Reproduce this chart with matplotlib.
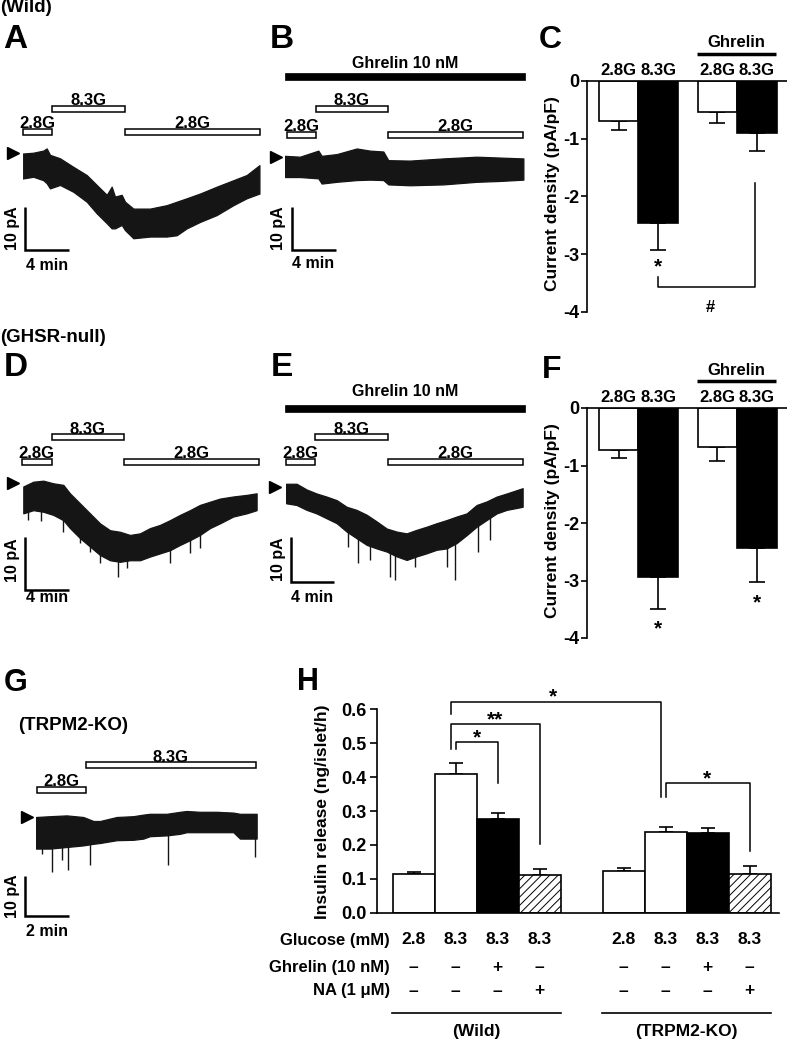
import numpy as np
import matplotlib
matplotlib.use("Agg")
import matplotlib.pyplot as plt
from matplotlib.patches import Rectangle
from matplotlib.transforms import blended_transform_factory

plt.rcParams['font.family'] = ['Liberation Sans', 'DejaVu Sans']
plt.rcParams['font.weight'] = 'bold'
plt.rcParams['axes.linewidth'] = 1.2
plt.rcParams['hatch.linewidth'] = 0.7

W, H = 787, 1041
TRACE = '#151515'
FS = 11.5

# ---------------- current traces: envelope, time (min) / current (pA) ----------------
a_t = [0, 0.97, 1.88, 2.18, 2.48, 3.39, 4.61, 5.82, 6.73, 7.64, 8.09, 8.39, 9.0, 9.3,
       10.06, 11.58, 13.09, 14.0, 14.91, 16.12, 17.64, 19.15, 20.36, 21.52]
a_top = [-0.2, 0.0, 0.5, 1.0, -0.5, -1.3, -3.3, -5.2, -7.5, -9.8, -7.9, -10.2, -9.8, -11.4,
         -13.0, -13.0, -12.2, -11.4, -10.6, -9.5, -7.9, -6.4, -5.2, -2.9]
a_bot = [-6.0, -5.6, -6.4, -7.1, -8.3, -7.5, -9.1, -11.4, -14.1, -16.4, -17.6, -17.6, -16.8, -18.0,
         -19.9, -19.5, -19.5, -19.2, -17.6, -16.1, -14.5, -12.2, -10.6, -9.5]

b_t = [0, 1.36, 3.03, 3.33, 4.7, 6.52, 7.73, 8.94, 9.39, 11.36, 14.39, 17.42, 19.55, 21.67]
b_top = [0.2, 0.0, 1.4, 0.2, 0.6, 1.9, 1.4, 1.2, -0.8, -0.9, -0.4, 0.0, -0.2, -0.4]
b_bot = [-4.7, -4.7, -5.0, -6.2, -5.8, -5.4, -5.3, -5.4, -6.4, -6.6, -6.4, -5.8, -5.6, -5.3]

d_t = [0, 0.91, 1.82, 2.73, 3.64, 4.24, 5.15, 6.06, 6.97, 7.88, 8.79, 9.7, 10.61, 11.52,
       12.42, 13.33, 14.24, 15.15, 16.06, 16.97, 17.88, 19.09, 20.3, 21.21]
d_top = [-0.6, 0.3, 0.5, 0.0, -0.3, -1.9, -3.8, -5.7, -7.6, -8.9, -9.2, -9.8, -9.5, -8.5,
         -7.9, -7.0, -6.0, -5.1, -4.1, -3.5, -2.9, -2.5, -2.2, -1.9]
d_bot = [-5.7, -5.1, -5.4, -6.0, -7.0, -8.5, -10.4, -12.0, -13.6, -14.6, -14.9, -14.6, -14.6, -13.9,
         -13.3, -12.7, -11.7, -10.8, -9.8, -8.5, -7.6, -6.3, -5.7, -5.1]
d_spk_t = [0.45, 1.6, 3.64, 5.15, 6.06, 6.97, 8.64, 9.39, 13.33, 15.15, 16.06]
d_spk_v = [-7.0, -7.1, -9.2, -11.4, -13.0, -15.2, -17.7, -16.1, -15.2, -13.3, -12.3]

e_t = [0, 0.98, 1.91, 2.83, 3.75, 4.68, 5.6, 6.52, 7.45, 8.37, 9.29, 10.22, 11.14, 12.06,
       12.98, 13.91, 14.83, 15.75, 16.68, 17.6, 18.52, 19.45, 20.37, 21.85]
e_top = [0.8, 0.8, -0.5, -1.4, -2.1, -2.9, -4.4, -5.1, -6.2, -7.7, -9.3, -10.0, -10.4, -9.6,
         -8.9, -8.1, -7.4, -6.6, -5.9, -4.0, -3.2, -2.1, -1.4, -0.2]
e_bot = [-3.6, -4.0, -5.1, -5.9, -7.0, -8.1, -10.0, -11.5, -13.0, -13.8, -14.5, -15.6, -16.4, -15.6,
         -14.9, -14.1, -13.8, -12.6, -10.8, -8.9, -7.4, -5.9, -5.1, -4.4]
e_spk_t = [5.75, 6.68, 7.75, 9.6, 10.06, 11.91, 14.83, 15.6, 17.75, 18.83]
e_spk_v = [-13.4, -17.1, -16.4, -20.2, -20.9, -17.9, -17.9, -20.9, -14.5, -11.9]

g_t = [0, 0.64, 1.39, 2.15, 2.61, 2.91, 3.67, 4.42, 4.88, 5.18, 5.94, 6.55, 6.85, 7.45,
       8.21, 8.97, 9.27, 10.03]
g_top = [0.0, 0.2, 0.4, 0.0, -1.0, -1.0, 0.0, 0.2, 0.6, 0.8, 0.8, 1.3, 1.5, 1.3,
         1.3, 1.1, 0.8, 0.8]
g_bot = [-7.9, -7.9, -7.5, -7.1, -6.7, -6.5, -5.8, -5.7, -5.4, -4.8, -4.6, -4.2, -3.8, -3.8,
         -3.8, -3.8, -5.4, -5.4]
g_spk_t = [0.26, 0.71, 1.17, 1.47, 2.45, 6.02, 9.96]
g_spk_v = [-9.2, -13.8, -10.8, -13.3, -12.1, -12.1, -10.0]

# glucose application periods (min)
stim_lbl = ["2.8G", "8.3G", "2.8G"]
a_on, a_off = [0, 2.69, 9.27], [2.69, 9.27, 21.57]
b_on, b_off = [0.15, 2.79, 9.39], [2.79, 9.39, 21.67]
d_on, d_off = [-0.15, 2.57, 9.15], [2.57, 9.15, 21.4]
e_on, e_off = [0, 2.7, 9.38], [2.7, 9.38, 21.86]
g_lbl = ["2.8G", "8.3G"]
g_on, g_off = [0.06, 2.26], [2.26, 9.99]
b_ghr = [0, 21.8]
e_ghr = [-0.1, 22.1]

# ---------------- current density (pA/pF) ----------------
cd_labels = ["2.8G", "8.3G", "2.8G", "8.3G"]
c_mean = [-0.70, -2.46, -0.53, -0.90]
c_sem = [0.15, 0.46, 0.19, 0.32]
f_mean = [-0.73, -2.94, -0.68, -2.44]
f_sem = [0.14, 0.55, 0.24, 0.58]

# ---------------- insulin release (ng/islet/h) ----------------
h_wild = [0.113, 0.409, 0.277, 0.110]
h_wild_sem = [0.008, 0.032, 0.018, 0.020]
h_ko = [0.123, 0.237, 0.236, 0.113]
h_ko_sem = [0.008, 0.017, 0.013, 0.025]
glucose = ["2.8", "8.3", "8.3", "8.3"]
ghrelin = ["–", "–", "+", "–"]
na = ["–", "–", "–", "+"]


fig = plt.figure(figsize=(W / 100, H / 100), dpi=100)
ov = fig.add_axes([0, 0, 1, 1], zorder=10)
ov.set_xlim(0, W)
ov.set_ylim(H, 0)
ov.axis('off')


def box(x0, y0, x1, y1):
    return [x0 / W, 1 - y1 / H, (x1 - x0) / W, (y1 - y0) / H]


def trace_panel(t0, base, ppm, ppa, t, top, bot, spk_t=None, spk_v=None, arrow_off=10):
    ax = fig.add_axes([t0 / W, 1 - (base + 120) / H, 245 / W, 150 / H])
    ax.set_xlim(0, 245 / ppm)
    ax.set_ylim(-120 / ppa, 30 / ppa)
    ax.axis('off')
    ax.fill_between(t, bot, top, color=TRACE, lw=0.9)
    if spk_t:
        ax.vlines(spk_t, spk_v, np.interp(spk_t, t, bot) + 0.5, color=TRACE, lw=1.0)
    ax.plot([-arrow_off / ppm], [0], marker='>', ms=8, color='k', clip_on=False)
    return ax


def stim_bars(ax, labels, on, off, rows):
    tr = blended_transform_factory(ax.transData, ov.transData)
    for lab, a, b, ytop in zip(labels, on, off, rows):
        ax.add_patch(Rectangle((a, ytop), b - a, 6, transform=tr, fc='white', ec='k',
                               lw=1.1, clip_on=False))
        ax.text((a + b) / 2, ytop - 0.8, lab, transform=tr, ha='center', va='baseline',
                fontsize=12)


def ghrelin_bar(ax, span, ytop, ytxt):
    tr = blended_transform_factory(ax.transData, ov.transData)
    ax.add_patch(Rectangle((span[0], ytop), span[1] - span[0], 6.5, transform=tr,
                           fc='k', ec='k', lw=0.5, clip_on=False))
    ax.text(sum(span) / 2, ytxt, "Ghrelin 10 nM", transform=tr, ha='center', va='center',
            fontsize=FS)


def scale_bar(ax, corner, pa, mins, lbl_pa, lbl_t, t_text):
    cx, cy = ax.transData.inverted().transform(ov.transData.transform(corner))
    ax.plot([cx, cx, cx + mins], [cy + pa, cy, cy], color='k', lw=1.8, clip_on=False,
            solid_joinstyle='miter', solid_capstyle='butt')
    ov.text(lbl_pa[0], lbl_pa[1], "%d pA" % pa, rotation=90, ha='center', va='center',
            fontsize=FS)
    ov.text(lbl_t[0], lbl_t[1], t_text, ha='center', va='center', fontsize=FS)


# A
ax = trace_panel(22.7, 152.7, 11, 4.3, a_t, a_top, a_bot)
stim_bars(ax, stim_lbl, a_on, a_off, [129.3, 106, 129.3])
scale_bar(ax, (25, 250), 10, 4, (12, 228.5), (46.7, 265), "4 min")
# B
ax = trace_panel(285, 156.7, 11, 4.33, b_t, b_top, b_bot, arrow_off=9.2)
stim_bars(ax, stim_lbl, b_on, b_off, [131.7, 106, 131.7])
ghrelin_bar(ax, b_ghr, 73.3, 63.3)
scale_bar(ax, (291.7, 250), 10, 4, (279, 228.5), (313.3, 263.3), "4 min")
# D
ax = trace_panel(23.3, 483.3, 11, 5.27, d_t, d_top, d_bot, d_spk_t, d_spk_v, arrow_off=10.5)
stim_bars(ax, stim_lbl, d_on, d_off, [459.3, 434.3, 459.3])
scale_bar(ax, (25, 590), 10, 4, (12, 560), (46.7, 597), "4 min")
# E
ax = trace_panel(286, 487.3, 10.83, 4.43, e_t, e_top, e_bot, e_spk_t, e_spk_v, arrow_off=10.7)
stim_bars(ax, stim_lbl, e_on, e_off, [459.3, 434.3, 459.3])
ghrelin_bar(ax, e_ghr, 405, 391.7)
scale_bar(ax, (290.7, 581.7), 10, 4, (278.5, 559), (311.7, 597), "4 min")
# G
ax = trace_panel(36, 817, 22, 4.0, g_t, g_top, g_bot, g_spk_t, g_spk_v, arrow_off=8.8)
stim_bars(ax, g_lbl, g_on, g_off, [786.7, 762.3])
scale_bar(ax, (25, 916), 10, 2, (12, 896), (46.7, 931), "2 min")


# C and F bar charts
cd_pos = [0, 1, 2.5, 3.5]
cd_col = ['white', 'black', 'white', 'black']


def density_panel(rect, mean, sem):
    ax = fig.add_axes(rect)
    ax.bar(cd_pos, mean, width=1.0, color=cd_col, edgecolor='k', lw=1.2, zorder=2)
    ax.errorbar(cd_pos, mean, yerr=[sem, [0] * 4], fmt='none', ecolor='k', elinewidth=1.2,
                capsize=5.5, capthick=1.2, zorder=1)
    ax.set_xlim(-0.8, 4.26)
    ax.set_ylim(-4, 0)
    for s in ['right', 'bottom']:
        ax.spines[s].set_visible(False)
    ax.set_xticks([])
    ax.set_yticks([0, -1, -2, -3, -4])
    ax.set_yticklabels(['0', '-1', '-2', '-3', '-4'], fontsize=13)
    ax.tick_params(axis='y', length=4, width=1.2, pad=1.5)
    for p, lab in zip(cd_pos, cd_labels):
        ax.text(p, 0.19, lab, ha='center', va='center', fontsize=12, clip_on=False)
    ax.plot([1.98, 3.98], [0.47, 0.47], color='k', lw=2.5, clip_on=False,
            solid_capstyle='butt')
    ax.text(2.98, 0.66, "Ghrelin", ha='center', va='center', fontsize=12)
    return ax


axc = density_panel(box(587, 81, 787, 312), c_mean, c_sem)
axc.plot([1.0, 1.0, 3.45, 3.45], [-3.39, -3.57, -3.57, -1.77], color='k', lw=1.1,
         clip_on=False)
axc.text(1.0, -3.32, "*", ha='center', va='baseline', fontsize=15, clip_on=False)
axc.text(2.31, -3.93, "#", ha='center', va='center', fontsize=12, clip_on=False)
ov.text(553, 194, "Current density (pA/pF)", rotation=90, ha='center', va='center',
        fontsize=12.5)

axf = density_panel(box(587, 408, 787, 638), f_mean, f_sem)
axf.text(1.0, -3.94, "*", ha='center', va='baseline', fontsize=15, clip_on=False)
axf.text(3.5, -3.48, "*", ha='center', va='baseline', fontsize=15, clip_on=False)
ov.text(553, 521, "Current density (pA/pF)", rotation=90, ha='center', va='center',
        fontsize=12.5)

# H insulin release
axh = fig.add_axes(box(376.7, 709.3, 779, 912.7))
pos_w = [0, 1, 2, 3]
pos_k = [5, 6, 7, 8]
fills = ['white', 'white', 'black', 'white']
hatches = ['', '', '', '////']
for pos, vals, sems in [(pos_w, h_wild, h_wild_sem), (pos_k, h_ko, h_ko_sem)]:
    bars = axh.bar(pos, vals, width=1.0, color=fills, edgecolor='k', lw=1.2, zorder=2)
    for b, hh in zip(bars, hatches):
        b.set_hatch(hh)
    axh.errorbar(pos, vals, yerr=[[0] * 4, sems], fmt='none', ecolor='k', elinewidth=1.2,
                 capsize=5, capthick=1.2, zorder=1)
axh.set_xlim(-0.88, 8.7)
axh.set_ylim(0, 0.6)
for s in ['right', 'top']:
    axh.spines[s].set_visible(False)
axh.set_xticks([])
axh.set_yticks(np.arange(0, 0.61, 0.1))
axh.set_yticklabels(["%.1f" % v for v in np.arange(0, 0.61, 0.1)], fontsize=13)
axh.tick_params(axis='y', length=5, width=1.2, pad=2)

brackets = [([0.9, 0.9, 5.9, 5.9], [0.586, 0.622, 0.622, 0.342], 3.32, 0.620, "*"),
            ([0.9, 0.9, 3.0, 3.0], [0.482, 0.557, 0.557, 0.203], 1.94, 0.552, "**"),
            ([1.01, 1.01, 2.01, 2.01], [0.482, 0.504, 0.504, 0.383], 1.5, 0.500, "*"),
            ([6.02, 6.02, 8.0, 8.0], [0.342, 0.382, 0.382, 0.183], 6.98, 0.378, "*")]
for bx, by, sx, sy, s in brackets:
    axh.plot(bx, by, color='k', lw=1.1, clip_on=False)
    axh.text(sx, sy, s, ha='center', va='baseline', fontsize=15, clip_on=False)

ov.text(323, 812, "Insulin release (ng/islet/h)", rotation=90, ha='center', va='center',
        fontsize=12.5)

trh = blended_transform_factory(axh.transData, ov.transData)
rows = [("Glucose (mM)", glucose, 940), ("Ghrelin (10 nM)", ghrelin, 967.7),
        ("NA (1 μM)", na, 991)]
for name, vals, y in rows:
    ov.text(390, y, name, ha='right', va='center', fontsize=12)
    for p in pos_w + pos_k:
        axh.text(p, y, vals[p % 5], transform=trh, ha='center', va='center', fontsize=12.5)
axh.plot([-0.52, 3.52], [1013, 1013], transform=trh, color='k', lw=1.2, clip_on=False)
axh.plot([4.48, 8.52], [1013, 1013], transform=trh, color='k', lw=1.2, clip_on=False)
axh.text(1.5, 1031.5, "(Wild)", transform=trh, ha='center', va='center', fontsize=12.5)
axh.text(6.5, 1031.5, "(TRPM2-KO)", transform=trh, ha='center', va='center', fontsize=12.5)

# panel titles and letters
ov.text(0, 8, "(Wild)", ha='left', va='center', fontsize=13.5)
ov.text(0, 338, "(GHSR-null)", ha='left', va='center', fontsize=13.5)
ov.text(18, 726, "(TRPM2-KO)", ha='left', va='center', fontsize=13.5)
for lab, x, y, fs in [("A", 3, 40, 24), ("B", 270, 40, 24), ("C", 539, 40, 23),
                      ("D", 4, 368, 24), ("E", 271, 368, 24), ("F", 542, 370, 23),
                      ("G", 4, 683, 22), ("H", 297, 682, 22)]:
    ov.text(x, y, lab, ha='left', va='center', fontsize=fs)

fig.savefig("out.png", dpi=100)
